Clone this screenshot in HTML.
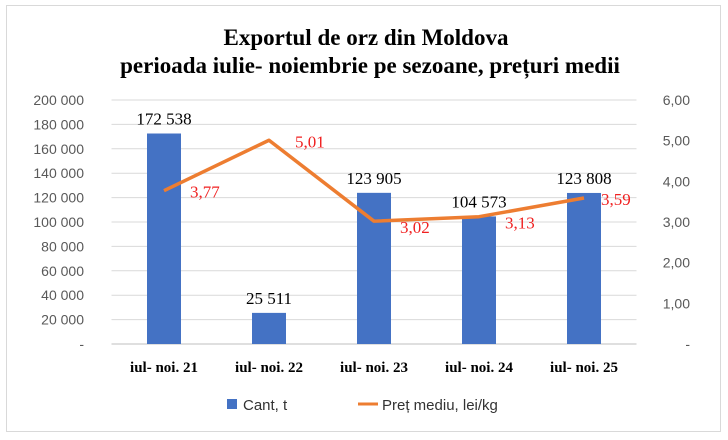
<!DOCTYPE html>
<html><head><meta charset="utf-8"><style>
body{margin:0;width:728px;height:440px;background:#fff;overflow:hidden;font-family:"Liberation Serif",serif;}
#frame{position:absolute;left:6px;top:5px;width:715px;height:427px;border:1px solid #d9d9d9;box-sizing:border-box;}
svg{position:absolute;left:0;top:0;}
</style></head><body>
<div id="frame"></div>
<svg id="c" width="728" height="440">
<text x="366" y="45" text-anchor="middle" font-size="23" font-weight="bold">Exportul de orz  din Moldova</text>
<text x="370" y="73" text-anchor="middle" font-size="23" font-weight="bold">perioada iulie- noiembrie pe sezoane, prețuri medii</text>
<g id="grid"></g><g id="bars"></g><g id="line"></g><g id="labels"></g>
<rect x="227" y="399" width="10" height="10" fill="#4472c4"/>
<text x="243" y="410" font-size="15" font-family="Liberation Sans,sans-serif" fill="#333">Cant, t</text>
<line x1="358" y1="404" x2="378" y2="404" stroke="#ed7d31" stroke-width="3"/>
<text x="382" y="410" font-size="15" font-family="Liberation Sans,sans-serif" fill="#333">Preț mediu, lei/kg</text>
</svg>
<script>
const categories=["iul- noi. 21","iul- noi. 22","iul- noi. 23","iul- noi. 24","iul- noi. 25"];
const quantities=[172538,25511,123905,104573,123808];
const qtyLabels=["172 538","25 511","123 905","104 573","123 808"];
const prices=[3.77,5.01,3.02,3.13,3.59];
const priceLabels=["3,77","5,01","3,02","3,13","3,59"];
const leftTicks=["-","20 000","40 000","60 000","80 000","100 000","120 000","140 000","160 000","180 000","200 000"];
const rightTicks=["-","1,00","2,00","3,00","4,00","5,00","6,00"];
const NS="http://www.w3.org/2000/svg";
const X0=111.5,X1=636.5,Y0=344,Y1=100;
const band=(X1-X0)/categories.length;
const xC=i=>X0+band*(i+0.5);
const yL=v=>Y0-v/200000*(Y0-Y1);
const yR=v=>Y0-v/6*(Y0-Y1);
function mk(tag,attrs,parent,text){const e=document.createElementNS(NS,tag);for(const k in attrs)e.setAttribute(k,attrs[k]);if(text!==undefined)e.textContent=text;document.getElementById(parent).appendChild(e);return e;}
leftTicks.forEach((t,i)=>{const y=yL(i*20000);
 const g=mk('line',{x1:X0,x2:X1,y1:y,y2:y,stroke:i==0?'#bfbfbf':'#d9d9d9','stroke-width':1},'grid');
 
 
 const l=mk('text',{x:84,y:y+5,'text-anchor':'end','font-size':14,'font-family':'Liberation Sans,sans-serif',fill:'#595959'},'grid',t);
 
 });
rightTicks.forEach((t,i)=>{const y=yR(i);
 const l=mk('text',{x:690,y:y+5,'text-anchor':'end','font-size':14,'font-family':'Liberation Sans,sans-serif',fill:'#595959'},'grid',t);
 
 });
categories.forEach((c,i)=>{
 const b=mk('rect',{x:xC(i)-17,y:yL(quantities[i]),width:34,height:Y0-yL(quantities[i]),fill:'#4472c4'},'bars');
 
 
 const q=mk('text',{x:xC(i),y:yL(quantities[i])-9,'text-anchor':'middle','font-size':17},'labels',qtyLabels[i]);
 
 
 const cl=mk('text',{x:xC(i),y:372,'text-anchor':'middle','font-size':15,'font-weight':'bold'},'labels',c);
 
 
});
const pl=mk('polyline',{points:prices.map((v,i)=>xC(i)+','+yR(v)).join(' '),fill:'none',stroke:'#ed7d31','stroke-width':3.5,'stroke-linejoin':'round'},'line');


prices.forEach((v,i)=>{
 const dx=i==4?17:26, dy=(i==2||i==3)?12:7;
 const p=mk('text',{x:xC(i)+dx,y:yR(v)+dy,'font-size':17,fill:'#f02020'},'labels',priceLabels[i]);
 
 
});
</script>
</body></html>
